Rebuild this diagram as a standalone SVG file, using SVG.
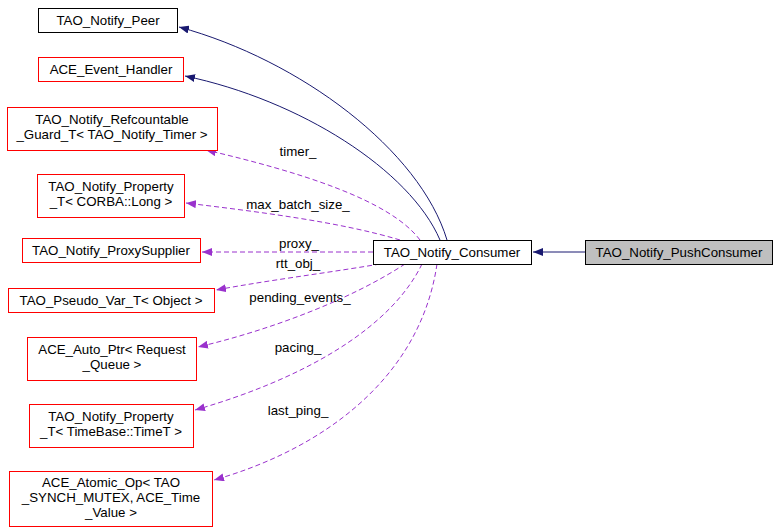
<svg xmlns="http://www.w3.org/2000/svg" width="779" height="532" viewBox="0 0 779 532">
<style>
text{font-family:"Liberation Sans",Arial,sans-serif;font-size:13.3px;fill:#000}
.n{fill:#fff;stroke:#ff0000;stroke-width:1}
.b{fill:#fff;stroke:#000;stroke-width:1}
.g{fill:#bfbfbf;stroke:#000;stroke-width:1}
.s{fill:none;stroke:#191970;stroke-width:1}
.d{fill:none;stroke:#9a32cd;stroke-width:1;stroke-dasharray:5,3}
.m{text-anchor:middle}
</style>
<defs>
<marker id="an" markerWidth="10" markerHeight="8" refX="10" refY="4" orient="auto" markerUnits="userSpaceOnUse"><path d="M0,0 L10,4 L0,8 z" fill="#191970"/></marker>
<marker id="ap" markerWidth="10" markerHeight="8" refX="10" refY="4" orient="auto" markerUnits="userSpaceOnUse"><path d="M0,0 L10,4 L0,8 z" fill="#9a32cd"/></marker>
</defs>
<g id="connectors">
<path class="s" d="M585,252 L533,252" marker-end="url(#an)"/>
<path class="s" d="M447,240 C420,150 300,60 179,27" marker-end="url(#an)"/>
<path class="s" d="M440,240 C410,170 300,100 185,76" marker-end="url(#an)"/>
<path class="d" d="M420,240 C390,200 300,172 206,150" marker-end="url(#ap)"/>
<path class="d" d="M400,240 C340,222 260,212 186,203" marker-end="url(#ap)"/>
<path class="d" d="M373,252 L202,252" marker-end="url(#ap)"/>
<path class="d" d="M380,264 C320,274 270,280 216,290" marker-end="url(#ap)"/>
<path class="d" d="M405,264 C350,300 270,330 198,347" marker-end="url(#ap)"/>
<path class="d" d="M422,264 C390,330 300,380 195,410" marker-end="url(#ap)"/>
<path class="d" d="M437,264 C420,380 320,450 214,480" marker-end="url(#ap)"/>
<text class="m" x="298" y="156">timer_</text>
<text class="m" x="298" y="209">max_batch_size_</text>
<text class="m" x="299" y="248">proxy_</text>
<text class="m" x="298" y="268">rtt_obj_</text>
<text class="m" x="300" y="302">pending_events_</text>
<text class="m" x="298" y="352">pacing_</text>
<text class="m" x="298" y="415">last_ping_</text>
</g>
<g id="push"><rect class="g" x="585.5" y="240.5" width="187" height="24"/><text class="m" x="679" y="257">TAO_Notify_PushConsumer</text></g>
<g id="consumer"><rect class="b" x="373.5" y="240.5" width="158" height="24"/><text class="m" x="452" y="257">TAO_Notify_Consumer</text></g>
<g id="peer"><rect class="b" x="38.5" y="8.5" width="139" height="24"/><text class="m" x="108" y="25">TAO_Notify_Peer</text></g>
<g id="evh"><rect class="n" x="38.5" y="57.5" width="145" height="24"/><text class="m" x="111" y="74">ACE_Event_Handler</text></g>
<g id="guard"><rect class="n" x="7.5" y="107.5" width="210" height="43"/><text class="m" x="112" y="124">TAO_Notify_Refcountable</text><text class="m" x="112" y="139">_Guard_T&lt; TAO_Notify_Timer &gt;</text></g>
<g id="plong"><rect class="n" x="37.5" y="174.5" width="147" height="43"/><text class="m" x="111" y="191">TAO_Notify_Property</text><text class="m" x="111" y="206">_T&lt; CORBA::Long &gt;</text></g>
<g id="proxy"><rect class="n" x="22.5" y="238.5" width="178" height="24"/><text class="m" x="111" y="255">TAO_Notify_ProxySupplier</text></g>
<g id="pseudo"><rect class="n" x="8.5" y="288.5" width="206" height="24"/><text class="m" x="111" y="305">TAO_Pseudo_Var_T&lt; Object &gt;</text></g>
<g id="autoptr"><rect class="n" x="27.5" y="337.5" width="169" height="43"/><text class="m" x="112" y="354">ACE_Auto_Ptr&lt; Request</text><text class="m" x="112" y="369">_Queue &gt;</text></g>
<g id="ptime"><rect class="n" x="29.5" y="404.5" width="164" height="43"/><text class="m" x="111" y="421">TAO_Notify_Property</text><text class="m" x="111" y="436">_T&lt; TimeBase::TimeT &gt;</text></g>
<g id="atomic"><rect class="n" x="9.5" y="471.5" width="203" height="55"/><text class="m" x="111" y="487">ACE_Atomic_Op&lt; TAO</text><text class="m" x="111" y="502">_SYNCH_MUTEX, ACE_Time</text><text class="m" x="111" y="517">_Value &gt;</text></g>
</svg>
